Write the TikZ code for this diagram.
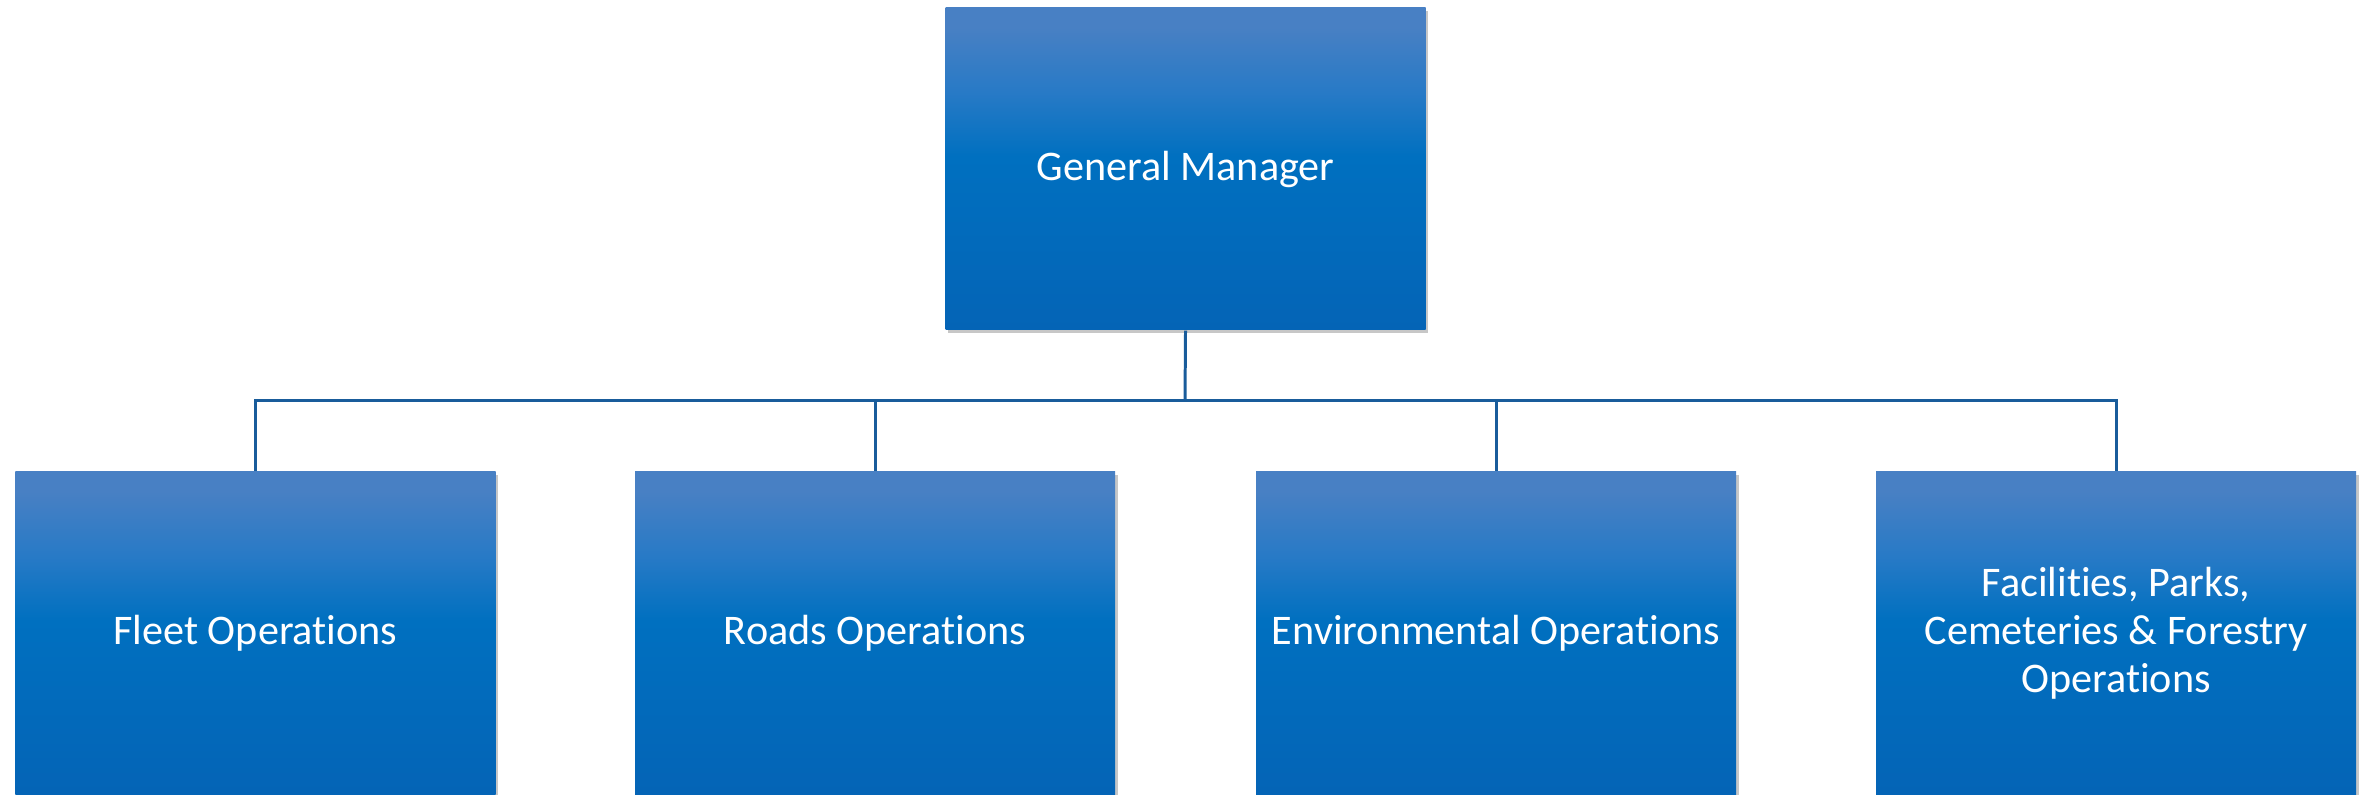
\documentclass[tikz,border=0pt]{standalone}
\usepackage{fontspec}
\setmainfont{Carlito}[Ligatures=NoCommon]
\usepackage{tikz}
\usetikzlibrary{positioning, shadows}

\definecolor{boxtop}{RGB}{72,128,196}
\definecolor{boxlight}{RGB}{40,122,198}
\definecolor{boxmid}{RGB}{0,112,192}
\definecolor{boxbot}{RGB}{4,100,182}
\definecolor{linkblue}{RGB}{25,92,155}

% Dégradé des cadres
\pgfdeclareverticalshading{unitshade}{100bp}{color(0bp)=(boxbot); color(25bp)=(boxbot);
	color(52bp)=(boxmid); color(62bp)=(boxlight); color(72bp)=(boxtop); color(100bp)=(boxtop)}

\begin{document}
\begin{tikzpicture}[
	unit/.style={rectangle, minimum width=4.8cm, minimum height=3.22cm, inner sep=0pt,
		shading=unitshade, text=white, align=center, font=\fontsize{12}{13.7}\selectfont,
		drop shadow={shadow xshift=0.025cm, shadow yshift=-0.035cm, opacity=0.22, fill=black}},
	link/.style={draw=linkblue, line width=0.85pt}
	]

	% Le cadre
	\clip (0,0) rectangle (23.65,-7.95);

	% Les cadres de l'organigramme
	\node[unit] (gm) at (11.855,-1.69) {General Manager};
	\node[unit] (fleet) at (2.555,-6.33) {Fleet Operations};
	\node[unit] (roads) at (8.75,-6.33) {Roads Operations};
	\node[unit] (env) at (14.96,-6.33) {Environmental Operations};
	\node[unit] (fac) at (21.16,-6.33) {Facilities, Parks,\\Cemeteries \& Forestry\\Operations};

	% Les liaisons
	\coordinate (bus) at (11.85,-4.01);
	\draw[link] (gm.south) -- (bus);
	\draw[link] (bus) -| (fleet.north);
	\draw[link] (bus) -| (roads.north);
	\draw[link] (bus) -| (env.north);
	\draw[link] (bus) -| (fac.north);
\end{tikzpicture}
\end{document}
